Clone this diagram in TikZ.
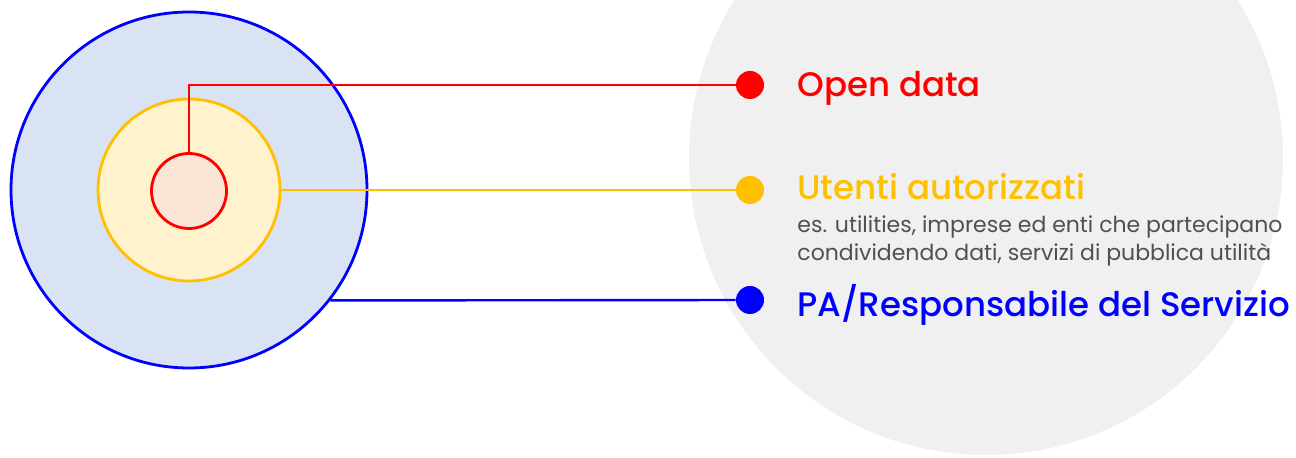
\documentclass[tikz,border=0pt]{standalone}
\usepackage{fontspec}
\setmainfont{Poppins}
\newfontfamily\headfont{Poppins Medium}
\usepackage{tikz}
\usetikzlibrary{shapes,arrows,positioning}
\definecolor{cred}{HTML}{FF0000}
\definecolor{cyellow}{HTML}{FFC000}
\definecolor{cblue}{HTML}{0000FF}
\definecolor{fred}{HTML}{FBE5D6}
\definecolor{fyellow}{HTML}{FFF2CC}
\definecolor{fblue}{HTML}{DAE3F3}
\definecolor{bgrey}{HTML}{F0F0F0}
\definecolor{tgrey}{HTML}{505050}
\tikzstyle{ring} = [circle, draw, line width = 1.4pt, inner sep = 0pt]
\tikzstyle{dot} = [circle, fill, inner sep = 0pt, minimum size = 14pt]
\tikzstyle{title} = [anchor = base west, inner sep = 0pt, font = \headfont\fontsize{17}{20}\selectfont]
\tikzstyle{note} = [anchor = base west, inner sep = 0pt, align = left, text = tgrey, font = \fontsize{11}{14}\selectfont]
\tikzstyle{line} = [draw, line width = 1.2pt]

\begin{document}
\begin{tikzpicture}[x = 0.5pt, y = -0.5pt]
				\useasboundingbox (0, 0) rectangle (1296, 458);
				\clip (0, 0) rectangle (1296, 458);
				\fill [bgrey] (986, 158) circle (297);

				\node [ring, draw = cblue, fill = fblue, minimum size = 178pt] (outer) at (189, 190) {};
				\node [ring, draw = cyellow, fill = fyellow, minimum size = 91pt] (middle) at (189, 190) {};
				\node [ring, draw = cred, fill = fred, minimum size = 37.5pt] (inner) at (189, 191) {};

				\node [dot, cred] (dopen) at (750, 85) {};
				\node [dot, cyellow] (daut) at (750, 190) {};
				\node [dot, cblue] (dpa) at (750, 300) {};

				\node [title, text = cred] (lopen) at (797, 97) {Open data};
				\node [title, text = cyellow] (laut) at (797, 200) {Utenti autorizzati};
				\node [note] (lnote) at (797, 261) {es. utilities, imprese ed enti che partecipano\\condividendo dati, servizi di pubblica utilità};
				\node [title, text = cblue] (lpa) at (797, 317) {PA/Responsabile del Servizio};

				\path [line, cred] (inner.north) |- (dopen);
				\path [line, cyellow] (middle.east) -- (daut);
				\path [line, cblue] (outer.-38.2) -- (dpa);
			\end{tikzpicture}
\end{document}
